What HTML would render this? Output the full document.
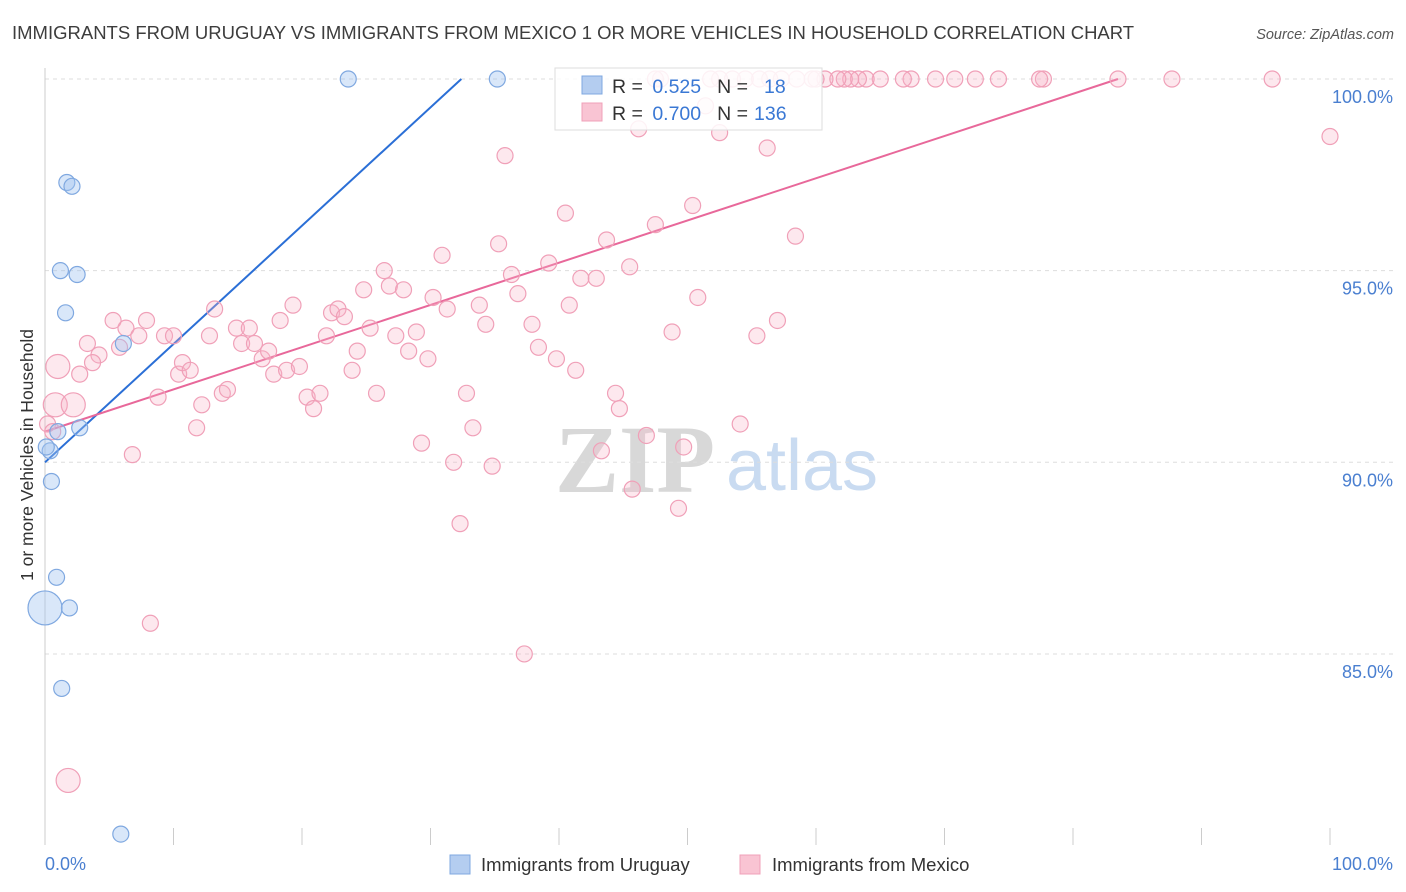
<!DOCTYPE html>
<html><head><meta charset="utf-8">
<style>
body{margin:0;background:#fff;font-family:"Liberation Sans",sans-serif;}
svg{display:block}
</style></head>
<body>
<svg id="chart" width="1406" height="892">
<text x="12" y="39" font-size="18.5" fill="#3d3d3d">IMMIGRANTS FROM URUGUAY VS IMMIGRANTS FROM MEXICO 1 OR MORE VEHICLES IN HOUSEHOLD CORRELATION CHART</text>
<text x="1394" y="39" font-size="14.5" fill="#555" font-style="italic" text-anchor="end">Source: ZipAtlas.com</text>
<g>
<text x="635" y="492" font-size="96" font-family="Liberation Serif,serif" fill="#d8d8d8" text-anchor="middle" font-weight="bold">ZIP</text>
<text x="802" y="490" font-size="72" fill="#c9dbf1" text-anchor="middle">atlas</text>
</g>
<g id="grid"></g>
<g id="axes"></g>
<g id="lines"></g>
<g id="points"></g>
<g>
<rect x="555" y="68" width="267" height="62" fill="#fff" fill-opacity="0.85" stroke="#ddd"/>
<rect x="582" y="76" width="20" height="18" fill="#b4cdf0" stroke="#7fa8e0"/>
<rect x="582" y="103" width="20" height="18" fill="#f9c4d3" stroke="#f0a0b8"/>
<text x="612" y="93" font-size="19.5" fill="#333">R = <tspan fill="#3a78d4" dx="4">0.525</tspan><tspan fill="#333" dx="16">N =</tspan><tspan fill="#3a78d4" dx="16">18</tspan></text>
<text x="612" y="120" font-size="19.5" fill="#333">R = <tspan fill="#3a78d4" dx="4">0.700</tspan><tspan fill="#333" dx="16">N =</tspan><tspan fill="#3a78d4" dx="6">136</tspan></text>
</g>
<text x="33" y="455" font-size="17.5" fill="#333" text-anchor="middle" transform="rotate(-90 33 455)">1 or more Vehicles in Household</text>
<g>
<rect x="450" y="855" width="20" height="19" fill="#b4cdf0" stroke="#7fa8e0"/>
<text x="481" y="871" font-size="18.5" fill="#333">Immigrants from Uruguay</text>
<rect x="740" y="855" width="20" height="19" fill="#f9c4d3" stroke="#f0a0b8"/>
<text x="772" y="871" font-size="18.5" fill="#333">Immigrants from Mexico</text>
</g>
</svg>
<script>
const yTicks=[100,95,90,85];
const yTickLabels=["100.0%","95.0%","90.0%","85.0%"];
const xTickCount=10;
const xLabels=["0.0%","100.0%"];
const uruguayX=[23.6,35.2,1.7,2.1,1.2,2.5,1.6,6.1,1.0,2.7,0.4,0.1,0.5,0.9,1.9,0,1.3,5.9];
const uruguayY=[100,100,97.3,97.2,95.0,94.9,93.9,93.1,90.8,90.9,90.3,90.4,89.5,87.0,86.2,86.2,84.1,80.3];
const uruguayR=[8,8,8,8,8,8,8,8,8,8,8,8,8,8,8,17,8,8];
const mexicoX=[1.8,8.2,37.3,32.3,49.3,45.7,34.8,31.8,29.3,43.3,49.7,46.8,33.3,54.1,11.8,6.8,0.8,2.2,1.0,2.7,3.3,4.2,3.7,5.3,6.3,7.3,7.9,5.8,9.3,10.0,8.8,10.4,10.7,11.3,12.2,13.8,14.2,12.8,13.2,14.9,15.3,15.9,16.3,16.9,17.4,17.8,18.3,18.8,19.3,19.8,20.4,20.9,21.4,22.3,21.9,22.8,23.3,23.9,24.3,24.8,25.3,25.8,26.4,26.8,27.3,27.9,28.3,28.9,29.8,30.2,30.9,31.3,32.8,33.8,34.3,35.3,35.8,36.3,36.8,37.9,38.4,39.2,39.8,40.5,40.8,41.3,41.7,42.9,43.7,44.4,44.7,45.5,46.2,47.5,48.8,50.4,50.8,51.4,52.5,55.4,56.2,57.0,58.4,100,95.5,87.7,83.5,77.7,77.4,74.2,72.4,70.8,69.3,67.4,66.8,65.0,63.9,63.3,62.7,62.2,61.7,60.7,60.0,59.7,58.5,57.3,56.4,55.6,54.5,53.5,52.5,51.8,47.9,47.5,0.2,0.6];
const mexicoY=[81.7,85.8,85.0,88.4,88.8,89.3,89.9,90.0,90.5,90.3,90.4,90.7,90.9,91.0,90.9,90.2,91.5,91.5,92.5,92.3,93.1,92.8,92.6,93.7,93.5,93.3,93.7,93.0,93.3,93.3,91.7,92.3,92.6,92.4,91.5,91.8,91.9,93.3,94.0,93.5,93.1,93.5,93.1,92.7,92.9,92.3,93.7,92.4,94.1,92.5,91.7,91.4,91.8,93.9,93.3,94.0,93.8,92.4,92.9,94.5,93.5,91.8,95.0,94.6,93.3,94.5,92.9,93.4,92.7,94.3,95.4,94.0,91.8,94.1,93.6,95.7,98.0,94.9,94.4,93.6,93.0,95.2,92.7,96.5,94.1,92.4,94.8,94.8,95.8,91.8,91.4,95.1,98.7,96.2,93.4,96.7,94.3,99.3,98.6,93.3,98.2,93.7,95.9,98.5,100,100,100,100,100,100,100,100,100,100,100,100,100,100,100,100,100,100,100,100,100,100,100,100,100,100,100,100,100,100,91.0,90.8];
const mexicoBig=[0,16,17,18];
const uruguayLineX=[0,32.4];
const uruguayLineY=[90.0,100];
const mexicoLineX=[0,83.5];
const mexicoLineY=[90.8,100];

const NS="http://www.w3.org/2000/svg";
const xs=v=>45+v*12.85;
const ys=v=>79+(100-v)*38.33;
function mk(tag,attrs,parent){const e=document.createElementNS(NS,tag);for(const k in attrs)e.setAttribute(k,attrs[k]);parent.appendChild(e);return e;}
const grid=document.getElementById('grid'),axes=document.getElementById('axes'),lines=document.getElementById('lines'),pts=document.getElementById('points');
yTicks.forEach((t,i)=>{
 const g=mk('line',{x1:45,x2:1395,y1:ys(t),y2:ys(t),stroke:'#ddd','stroke-dasharray':'4,4'},grid);
 
 
 const l=mk('text',{x:1393,y:ys(t)+24,'font-size':18,fill:'#4a7fd0','text-anchor':'end'},axes);
 l.textContent=yTickLabels[i];
 
 
});
const ya=mk('line',{x1:45,x2:45,y1:68,y2:845,stroke:'#ccc'},axes);


for(let i=0;i<=xTickCount;i++){
 const t=mk('line',{x1:xs(i*10),x2:xs(i*10),y1:828,y2:845,stroke:'#ccc'},axes);
 
 
}
const xl0=mk('text',{x:45,y:870,'font-size':18,fill:'#4a7fd0'},axes);xl0.textContent=xLabels[0];


const xl1=mk('text',{x:1393,y:870,'font-size':18,fill:'#4a7fd0','text-anchor':'end'},axes);xl1.textContent=xLabels[1];



mexicoX.forEach((x,i)=>{
 const r=mexicoBig.includes(i)?12:8;
 const c=mk('circle',{cx:xs(x),cy:ys(mexicoY[i]),r:r,fill:'rgba(248,180,200,0.3)',stroke:'#f0a0b8','stroke-width':1.2},pts);
 
 
});
uruguayX.forEach((x,i)=>{
 const c=mk('circle',{cx:xs(x),cy:ys(uruguayY[i]),r:uruguayR[i],fill:'rgba(160,195,240,0.4)',stroke:'#7fa8e0','stroke-width':1.2},pts);
 
 
});
const bl=mk('line',{x1:xs(uruguayLineX[0]),y1:ys(uruguayLineY[0]),x2:xs(uruguayLineX[1]),y2:ys(uruguayLineY[1]),stroke:'#2b6fd6','stroke-width':2},lines);


const pl=mk('line',{x1:xs(mexicoLineX[0]),y1:ys(mexicoLineY[0]),x2:xs(mexicoLineX[1]),y2:ys(mexicoLineY[1]),stroke:'#e8689a','stroke-width':2},lines);


</script>
</body></html>
